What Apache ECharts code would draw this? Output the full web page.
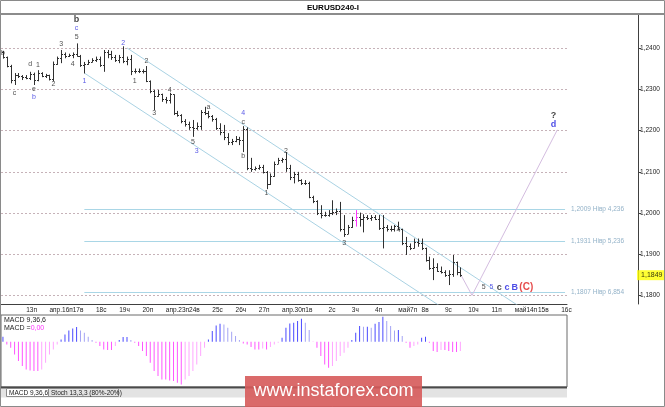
<!DOCTYPE html>
<html>
<head>
<meta charset="utf-8">
<title>EURUSD240-I</title>
<script src="https://cdn.jsdelivr.net/npm/echarts@6/dist/echarts.min.js"></script>
<style>
html, body { margin: 0; padding: 0; background: #fff; }
#chart { width: 665px; height: 407px; }
</style>
</head>
<body>
<div id="chart"></div>
<script>
// H4 bars, one slot per bar, 6 bars per trading day
var dayLabels = ["13п", "апр.16п", "17в", "18с", "19ч", "20п", "апр.23п", "24в", "25с", "26ч", "27п",
    "апр.30п", "1в", "2с", "3ч", "4п", "май7п", "8в", "9с", "10ч", "11п", "май14п", "15в", "16с"];
var barsPerDay = 6;
var slotCount = 146;

var barOpen = [
    1.2390, 1.2378, 1.2358, 1.2322, 1.2335, 1.2332, 1.2330, 1.2328, 1.2338, 1.2322,
    1.2340, 1.2334, 1.2335, 1.2326, 1.2362, 1.2376, 1.2386, 1.2382, 1.2384, 1.2386,
    1.2382, 1.2360, 1.2362, 1.2368, 1.2372, 1.2375, 1.2360, 1.2390, 1.2386, 1.2378,
    1.2372, 1.2380, 1.2370, 1.2374, 1.2344, 1.2346, 1.2344, 1.2345, 1.2320, 1.2296,
    1.2285, 1.2290, 1.2276, 1.2274, 1.2288, 1.2244, 1.2238, 1.2224, 1.2216, 1.2210,
    1.2206, 1.2212, 1.2246, 1.2244, 1.2236, 1.2228, 1.2206, 1.2196, 1.2184, 1.2172,
    1.2176, 1.2180, 1.2178, 1.2204, 1.2110, 1.2108, 1.2110, 1.2112, 1.2100, 1.2070,
    1.2090, 1.2120, 1.2128, 1.2130, 1.2110, 1.2088, 1.2094, 1.2080, 1.2074, 1.2072,
    1.2040, 1.2030, 1.2000, 1.1994, 1.1996, 1.2000, 1.2002, 1.2006, 1.1960, 1.1950,
    1.1966, 1.1984, 1.1990, 1.1986, 1.1990, 1.1988, 1.1990, 1.1986, 1.1964, 1.1965,
    1.1960, 1.1962, 1.1968, 1.1962, 1.1926, 1.1920, 1.1916, 1.1930, 1.1928, 1.1914,
    1.1886, 1.1866, 1.1870, 1.1860, 1.1856, 1.1850, 1.1852, 1.1880, 1.1856
];
var barHigh = [
    1.2394, 1.2380, 1.2360, 1.2340, 1.2340, 1.2335, 1.2335, 1.2343, 1.2341, 1.2347,
    1.2342, 1.2338, 1.2336, 1.2368, 1.2380, 1.2396, 1.2390, 1.2387, 1.2390, 1.2412,
    1.2384, 1.2367, 1.2372, 1.2376, 1.2380, 1.2380, 1.2396, 1.2396, 1.2394, 1.2384,
    1.2384, 1.2405, 1.2380, 1.2384, 1.2351, 1.2351, 1.2349, 1.2357, 1.2322, 1.2299,
    1.2299, 1.2290, 1.2282, 1.2292, 1.2288, 1.2248, 1.2240, 1.2228, 1.2222, 1.2226,
    1.2220, 1.2250, 1.2258, 1.2248, 1.2238, 1.2231, 1.2218, 1.2214, 1.2194, 1.2180,
    1.2187, 1.2185, 1.2211, 1.2208, 1.2134, 1.2113, 1.2117, 1.2117, 1.2102, 1.2096,
    1.2125, 1.2134, 1.2134, 1.2148, 1.2117, 1.2100, 1.2100, 1.2082, 1.2080, 1.2076,
    1.2042, 1.2031, 1.2019, 1.2003, 1.2007, 1.2031, 1.2011, 1.2027, 1.1995, 1.1971,
    1.1991, 1.2007, 1.2001, 1.1997, 1.1995, 1.1995, 1.1995, 1.1995, 1.1995, 1.1971,
    1.1969, 1.1971, 1.1979, 1.1962, 1.1942, 1.1926, 1.1938, 1.1938, 1.1938, 1.1916,
    1.1894, 1.1890, 1.1878, 1.1870, 1.1861, 1.1861, 1.1898, 1.1882, 1.1868
];
var barLow = [
    1.2375, 1.2354, 1.2315, 1.2311, 1.2328, 1.2323, 1.2325, 1.2323, 1.2311, 1.2320,
    1.2330, 1.2328, 1.2322, 1.2320, 1.2360, 1.2364, 1.2376, 1.2379, 1.2376, 1.2380,
    1.2355, 1.2339, 1.2360, 1.2366, 1.2367, 1.2355, 1.2343, 1.2376, 1.2372, 1.2367,
    1.2364, 1.2364, 1.2359, 1.2335, 1.2339, 1.2340, 1.2339, 1.2318, 1.2291, 1.2250,
    1.2282, 1.2270, 1.2266, 1.2266, 1.2238, 1.2234, 1.2218, 1.2210, 1.2202, 1.2185,
    1.2202, 1.2202, 1.2238, 1.2230, 1.2222, 1.2202, 1.2189, 1.2177, 1.2165, 1.2165,
    1.2172, 1.2165, 1.2148, 1.2104, 1.2100, 1.2103, 1.2105, 1.2096, 1.2058, 1.2068,
    1.2088, 1.2119, 1.2122, 1.2100, 1.2080, 1.2072, 1.2076, 1.2068, 1.2068, 1.2036,
    1.2024, 1.1995, 1.1987, 1.1991, 1.1991, 1.1995, 1.1995, 1.1955, 1.1942, 1.1949,
    1.1964, 1.1967, 1.1967, 1.1953, 1.1983, 1.1981, 1.1983, 1.1959, 1.1914, 1.1955,
    1.1955, 1.1955, 1.1959, 1.1922, 1.1898, 1.1910, 1.1914, 1.1918, 1.1910, 1.1882,
    1.1862, 1.1837, 1.1857, 1.1853, 1.1845, 1.1825, 1.1845, 1.1849, 1.1845
];
var barClose = [
    1.2378, 1.2358, 1.2322, 1.2335, 1.2332, 1.2330, 1.2328, 1.2338, 1.2322, 1.2340,
    1.2334, 1.2335, 1.2326, 1.2362, 1.2376, 1.2386, 1.2382, 1.2384, 1.2386, 1.2382,
    1.2360, 1.2362, 1.2368, 1.2372, 1.2375, 1.2360, 1.2390, 1.2386, 1.2378, 1.2372,
    1.2380, 1.2370, 1.2374, 1.2344, 1.2346, 1.2344, 1.2345, 1.2320, 1.2296, 1.2285,
    1.2290, 1.2276, 1.2274, 1.2288, 1.2244, 1.2238, 1.2224, 1.2216, 1.2210, 1.2206,
    1.2212, 1.2246, 1.2244, 1.2236, 1.2228, 1.2206, 1.2196, 1.2184, 1.2172, 1.2176,
    1.2180, 1.2178, 1.2204, 1.2110, 1.2108, 1.2110, 1.2112, 1.2100, 1.2070, 1.2090,
    1.2120, 1.2128, 1.2130, 1.2110, 1.2088, 1.2094, 1.2080, 1.2074, 1.2072, 1.2040,
    1.2030, 1.2000, 1.1994, 1.1996, 1.2000, 1.2002, 1.2006, 1.1960, 1.1950, 1.1966,
    1.1984, 1.1990, 1.1986, 1.1990, 1.1988, 1.1990, 1.1986, 1.1964, 1.1965, 1.1960,
    1.1962, 1.1968, 1.1962, 1.1926, 1.1920, 1.1916, 1.1930, 1.1928, 1.1914, 1.1886,
    1.1866, 1.1870, 1.1860, 1.1856, 1.1850, 1.1852, 1.1880, 1.1856, 1.1849
];
var markedBar = 91;

// MACD 9,36,6 histogram
var macdHist = [
    0.00050, -0.00027, -0.00060, -0.00127, -0.00193, -0.00243, -0.00277, -0.00287, -0.00293, -0.00293,
    -0.00277, -0.00210, -0.00127, -0.00077, -0.00027, 0.00023, 0.00073, 0.00113, 0.00133, 0.00147,
    0.00113, 0.00090, 0.00050, 0.00017, -0.00010, -0.00043, -0.00077, -0.00083, -0.00083, -0.00043,
    0.00017, 0.00047, 0.00047, 0.00017, -0.00010, -0.00043, -0.00093, -0.00143, -0.00210, -0.00293,
    -0.00343, -0.00377, -0.00377, -0.00387, -0.00393, -0.00410, -0.00427, -0.00377, -0.00343, -0.00293,
    -0.00227, -0.00143, -0.00060, 0.00023, 0.00107, 0.00163, 0.00180, 0.00173, 0.00140, 0.00100,
    0.00057, 0.00017, -0.00017, -0.00027, -0.00053, -0.00077, -0.00077, -0.00067, -0.00077, -0.00053,
    -0.00027, -0.00010, 0.00040, 0.00140, 0.00183, 0.00190, 0.00207, 0.00230, 0.00190, 0.00117,
    -0.00003, -0.00060, -0.00143, -0.00227, -0.00260, -0.00243, -0.00193, -0.00143, -0.00110, -0.00060,
    0.00017, 0.00090, 0.00157, 0.00150, 0.00150, 0.00140, 0.00180, 0.00197, 0.00250, 0.00207,
    0.00157, 0.00113, 0.00117, 0.00057, -0.00010, -0.00060, -0.00043, -0.00027, 0.00040, 0.00050,
    -0.00010, -0.00093, -0.00103, -0.00083, -0.00083, -0.00093, -0.00103, -0.00103, -0.00093
];

var priceTicks = [1.18, 1.19, 1.20, 1.21, 1.22, 1.23, 1.24];
var fibLevels = [1.2009, 1.1931, 1.1807];
var fibRatios = ["4,236", "5,236", "6,854"];
var fibStart = 21.4;
var lastPrice = 1.1849;

var channelUpper = [[31.5, 1.2401], [145, 1.1700]];
var channelLower = [[21.2, 1.2340], [145, 1.1575]];
var projection = [[118, 1.1852], [121, 1.1800], [143, 1.2202]];

// wave marks: [bar slot, price, text]
var blackMarks = [
    [0.3, 1.2389, "b"], [3.1, 1.2291, "c"], [7.4, 1.2362, "d"], [8.25, 1.2301, "e"], [9.3, 1.2359, "1"],
    [13.4, 1.2313, "2"], [15.2, 1.2410, "3"], [18.3, 1.2362, "4"], [19.3, 1.2427, "5"],
    [33.5, 1.2321, "1"], [37.3, 1.2369, "2"], [39.1, 1.2243, "3"], [43.3, 1.2299, "4"],
    [49.45, 1.2172, "5"], [52.5, 1.2257, "a"], [62.3, 1.2221, "c"], [62.3, 1.2138, "b"],
    [68.2, 1.2049, "1"], [73.4, 1.2150, "2"], [88.3, 1.1927, "3"], [102.4, 1.1959, "4"],
    [123.6, 1.1820, "5"]
];
var blueMarks = [
    [19.3, 1.2449, "c"], [8.25, 1.2282, "b"], [21.4, 1.2321, "1"], [31.4, 1.2413, "2"],
    [49.5, 1.2150, "3"], [62.3, 1.2243, "4"], [125.6, 1.1820, "5"]
];
var blackBoldMarks = [[19.3, 1.2471, "b"], [127.8, 1.1820, "c"], [142.4, 1.2238, "?"]];
var blueBoldMarks = [[129.7, 1.1820, "c"], [131.6, 1.1820, "B"], [142.4, 1.2216, "d"]];
var redMarks = [[134.7, 1.1820, "(C)"]];

var font = '"Liberation Sans", Arial, sans-serif';

var categories = [];
for (var i = 0; i < slotCount; i++) {
    categories.push(String(i));
}
var ohlc = [];
for (var i = 0; i < barClose.length; i++) {
    ohlc.push([i, barOpen[i], barHigh[i], barLow[i], barClose[i]]);
}

function isDayStart(index) {
    return index > 0 && index % barsPerDay === 0 && index / barsPerDay <= dayLabels.length;
}

function fmtPrice(v) {
    return v.toFixed(4).replace(".", ",");
}

function renderBar(params, api) {
    var x = api.value(0);
    var o = api.coord([x, api.value(1)]);
    var h = api.coord([x, api.value(2)]);
    var l = api.coord([x, api.value(3)]);
    var c = api.coord([x, api.value(4)]);
    var px = Math.round(o[0]) + 0.5;
    var color = params.dataIndex === markedBar ? "#ff33ff" : "#303030";
    var st = { stroke: color, lineWidth: 1 };
    return {
        type: "group",
        children: [
            { type: "line", shape: { x1: px, y1: h[1], x2: px, y2: l[1] }, style: st },
            { type: "line", shape: { x1: px - 1.5, y1: Math.round(o[1]) + 0.5, x2: px, y2: Math.round(o[1]) + 0.5 }, style: st },
            { type: "line", shape: { x1: px, y1: Math.round(c[1]) + 0.5, x2: px + 1.5, y2: Math.round(c[1]) + 0.5 }, style: st }
        ]
    };
}

function markSeries(points, color, size, weight) {
    return {
        type: "scatter",
        xAxisIndex: 0,
        yAxisIndex: 0,
        silent: true,
        z: 6,
        symbolSize: 0,
        itemStyle: { color: "rgba(0,0,0,0)" },
        data: points,
        label: {
            show: true,
            position: "inside",
            formatter: function (p) { return p.data[2]; },
            color: color,
            fontSize: size,
            fontWeight: weight,
            fontFamily: font
        },
        emphasis: { disabled: true }
    };
}

var gridLines = priceTicks.map(function (v) {
    return { yAxis: v };
});

var fibLines = fibLevels.map(function (v, k) {
    return [
        { coord: [fibStart, v], name: fmtPrice(v) + " Нiвр " + fibRatios[k] },
        { coord: [slotCount - 1, v] }
    ];
});

var chart = echarts.init(document.getElementById("chart"));

var option = {
    animation: false,
    backgroundColor: "#ffffff",
    textStyle: { fontFamily: font },
    grid: [
        { left: 1, top: 15, width: 566, height: 289, show: false },
        { left: 1, top: 315, width: 566, height: 72, show: true, borderColor: "#6a6a6a", borderWidth: 1, backgroundColor: "#fff" }
    ],
    xAxis: [
        {
            type: "category",
            gridIndex: 0,
            data: categories,
            boundaryGap: true,
            axisLine: { lineStyle: { color: "#404040", width: 1 } },
            axisTick: {
                interval: function (index) { return isDayStart(index); },
                length: 3,
                lineStyle: { color: "#404040" }
            },
            axisLabel: {
                interval: function (index) { return isDayStart(index); },
                formatter: function (v, index) {
                    return dayLabels[Number(v) / barsPerDay - 1];
                },
                align: "left",
                margin: 3,
                fontSize: 6.5,
                color: "#222",
                fontFamily: font
            },
            splitLine: { show: false }
        },
        {
            type: "category",
            gridIndex: 1,
            data: categories,
            boundaryGap: true,
            show: false
        }
    ],
    yAxis: [
        {
            type: "value",
            gridIndex: 0,
            position: "right",
            offset: 71,
            min: 1.1779,
            max: 1.2481,
            axisLine: { show: true, lineStyle: { color: "#404040" } },
            axisTick: { show: true, length: 3, customValues: priceTicks, lineStyle: { color: "#404040" } },
            axisLabel: {
                customValues: priceTicks,
                formatter: fmtPrice,
                margin: 2,
                fontSize: 6.5,
                color: "#222",
                fontFamily: font
            },
            splitLine: { show: false }
        },
        {
            type: "value",
            gridIndex: 1,
            min: -0.00453,
            max: 0.00267,
            show: false,
            splitLine: { show: false }
        }
    ],
    series: [
        {
            type: "custom",
            name: "EURUSD",
            xAxisIndex: 0,
            yAxisIndex: 0,
            renderItem: renderBar,
            encode: { x: 0, y: [1, 2, 3, 4] },
            data: ohlc,
            silent: true,
            z: 3
        },
        {
            type: "line",
            xAxisIndex: 0,
            yAxisIndex: 0,
            data: channelUpper,
            showSymbol: false,
            silent: true,
            z: 2,
            lineStyle: { color: "#a9d2e3", width: 1 },
            markLine: {
                silent: true,
                symbol: ["none", "none"],
                z: 1,
                label: { show: false },
                lineStyle: { color: "#c6b2b8", width: 1, type: [2, 2] },
                emphasis: { disabled: true },
                data: gridLines
            }
        },
        {
            type: "line",
            xAxisIndex: 0,
            yAxisIndex: 0,
            data: channelLower,
            showSymbol: false,
            silent: true,
            z: 2,
            lineStyle: { color: "#a9d2e3", width: 1 }
        },
        {
            type: "line",
            xAxisIndex: 0,
            yAxisIndex: 0,
            data: projection,
            showSymbol: false,
            silent: true,
            z: 2,
            lineStyle: { color: "#d4bde0", width: 1 },
            markLine: {
                silent: true,
                symbol: ["none", "none"],
                z: 1,
                lineStyle: { color: "#a9d6e6", width: 1, type: "solid" },
                label: {
                    show: true,
                    position: "end",
                    distance: 6,
                    formatter: "{b}",
                    color: "#93b2c8",
                    fontSize: 6.5,
                    fontFamily: font
                },
                emphasis: { disabled: true },
                data: fibLines
            }
        },
        {
            // last price tag on the price scale
            type: "scatter",
            xAxisIndex: 0,
            yAxisIndex: 0,
            silent: true,
            z: 7,
            symbolSize: 0,
            itemStyle: { color: "rgba(0,0,0,0)" },
            data: [[slotCount - 1, lastPrice]],
            label: {
                show: true,
                position: "right",
                distance: 72,
                formatter: fmtPrice(lastPrice),
                backgroundColor: "#ffff00",
                color: "#000",
                fontSize: 7,
                fontFamily: font,
                padding: [2, 5, 1, 4]
            },
            emphasis: { disabled: true }
        },
        {
            type: "bar",
            xAxisIndex: 1,
            yAxisIndex: 1,
            data: macdHist,
            barWidth: 1,
            silent: true,
            itemStyle: {
                color: function (p) {
                    var v = macdHist[p.dataIndex];
                    var prev = p.dataIndex > 0 ? macdHist[p.dataIndex - 1] : v;
                    if (v >= 0) {
                        return v >= prev ? "#4a4aff" : "#a4a4f4";
                    }
                    return v <= prev ? "#ff55ff" : "#ffa6ff";
                }
            }
        },
        markSeries(blackMarks, "#222", 7, "normal"),
        markSeries(blueMarks, "#3030e0", 7, "normal"),
        markSeries(blackBoldMarks, "#111", 9, "bold"),
        markSeries(blueBoldMarks, "#2020e0", 9, "bold"),
        markSeries(redMarks, "#e02020", 10, "bold")
    ],
    graphic: [
        {
            type: "rect", silent: true, z: 100,
            shape: { x: 0.5, y: 0.5, width: 664, height: 406 },
            style: { fill: null, stroke: "#8a8a8a", lineWidth: 1 }
        },
        {
            type: "line", silent: true, z: 100,
            shape: { x1: 0, y1: 14, x2: 665, y2: 14 },
            style: { stroke: "#8c8c8c", lineWidth: 2 }
        },
        {
            type: "text", silent: true, z: 100, x: 333, y: 8,
            style: { text: "EURUSD240-I", font: "bold 8px " + font, fill: "#000", align: "center", verticalAlign: "middle" }
        },
        {
            type: "text", silent: true, z: 100, x: 4, y: 320,
            style: { text: "MACD 9,36,6", font: "7px " + font, fill: "#222", verticalAlign: "middle" }
        },
        {
            type: "text", silent: true, z: 100, x: 4, y: 328,
            style: {
                text: "{a|MACD =}{m|0,00}",
                verticalAlign: "middle",
                rich: {
                    a: { fontSize: 7, fontFamily: font, fill: "#222" },
                    m: { fontSize: 7, fontFamily: font, fill: "#ff33ff" }
                }
            }
        },
        {
            type: "line", silent: true, z: 100,
            shape: { x1: 1, y1: 387.5, x2: 567, y2: 387.5 },
            style: { stroke: "#4a4a4a", lineWidth: 2 }
        },
        {
            type: "rect", silent: true, z: 99,
            shape: { x: 1, y: 388.5, width: 566, height: 9 },
            style: { fill: "#e3e3e3" }
        },
        {
            type: "rect", silent: true, z: 100,
            shape: { x: 6.5, y: 388.5, width: 42, height: 8 },
            style: { fill: "#ffffff", stroke: "#8a8a8a", lineWidth: 1 }
        },
        {
            type: "text", silent: true, z: 101, x: 9, y: 393,
            style: { text: "MACD 9,36,6", font: "6.5px " + font, fill: "#222", verticalAlign: "middle" }
        },
        {
            type: "rect", silent: true, z: 100,
            shape: { x: 48.5, y: 388.5, width: 70, height: 8 },
            style: { fill: "#e3e3e3", stroke: "#8a8a8a", lineWidth: 1 }
        },
        {
            type: "text", silent: true, z: 101, x: 51, y: 393,
            style: { text: "Stoch 13,3,3 (80%-20%)", font: "6.5px " + font, fill: "#222", verticalAlign: "middle" }
        },
        {
            type: "rect", silent: true, z: 110,
            shape: { x: 245, y: 376, width: 177, height: 31 },
            style: { fill: "#d65a5a", opacity: 0.9 }
        },
        {
            type: "text", silent: true, z: 111, x: 333.5, y: 391.5,
            style: { text: "www.instaforex.com", font: "18px " + font, fill: "#ffffff", align: "center", verticalAlign: "middle" }
        }
    ]
};

chart.setOption(option);
</script>
</body>
</html>
